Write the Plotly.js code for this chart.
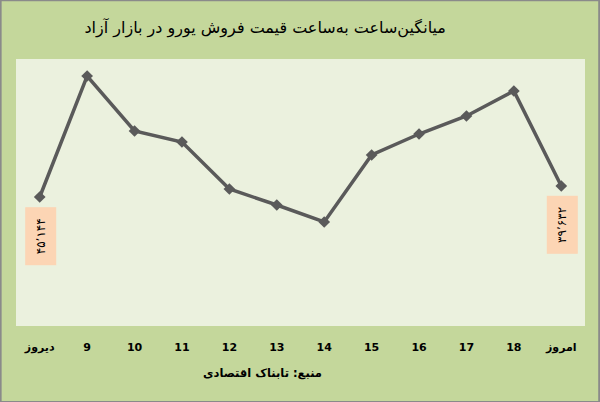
<!DOCTYPE html>
<html>
<head>
<meta charset="utf-8">
<script src="https://cdn.plot.ly/plotly-3.0.1.min.js"></script>
<style>
  html, body { margin: 0; padding: 0; background: #c4d79b; }
  #chart { width: 600px; height: 402px; }
</style>
</head>
<body>
<div id="chart"></div>
<script>
// hourly average euro sell price, free market (rial)
const hours = ['دیروز', '9', '10', '11', '12', '13', '14', '15', '16', '17', '18', 'امروز'];
const euroPrice = [45144, 51194, 48444, 47894, 45544, 44744, 43894, 47244, 48294, 49194, 50444, 45694];
// boxed labels on the first and last point, as printed on the chart
const endHours = ['دیروز', 'امروز'];
const endLabels = ['۴۵٬۱۴۴', '۳۹٬۶۳۲'];

const FA = 'DejaVu Sans, sans-serif';

const trace = {
  x: hours,
  y: euroPrice,
  type: 'scatter',
  mode: 'lines+markers',
  line: { color: '#5a5a5a', width: 3.5 },
  marker: { symbol: 'diamond', size: 9, color: '#5a5a5a' },
  hoverinfo: 'skip'
};

const annotations = endHours.map((h, k) => {
  const i = hours.indexOf(h);
  return {
    x: h, y: euroPrice[i], xref: 'x', yref: 'y',
    text: '\u2009' + endLabels[k] + '\u2009',
    showarrow: false, textangle: -90, yshift: -39, xshift: 1,
    bgcolor: '#fcd5b4', borderpad: 8,
    font: { family: FA, size: 12, color: '#000' }
  };
});

annotations.push({
  text: 'منبع: تابناک اقتصادی',
  xref: 'paper', yref: 'paper', x: 0.434, y: -0.175, yanchor: 'middle',
  showarrow: false, font: { family: FA, size: 11.5, color: '#000', weight: 'bold' }
});

const layout = {
  width: 600, height: 402,
  title: {
    text: 'میانگین‌ساعت به‌ساعت قیمت فروش یورو در بازار آزاد',
    font: { family: FA, size: 16, color: '#000' },
    xref: 'container', x: 0.442, xanchor: 'center', y: 0.933, yanchor: 'middle'
  },
  paper_bgcolor: '#c4d79b',
  plot_bgcolor: '#ebf1de',
  margin: { l: 16, r: 15, t: 59, b: 76 },
  showlegend: false,
  xaxis: {
    type: 'category', range: [-0.5, 11.5],
    showgrid: false, zeroline: false, showline: false,
    ticks: 'outside', ticklen: 11, tickcolor: 'rgba(0,0,0,0)',
    tickfont: { family: FA, size: 11, color: '#000', weight: 'bold' }
  },
  yaxis: {
    visible: false, range: [38694, 52044]
  },
  annotations: annotations,
  shapes: [{
    type: 'rect', xref: 'paper', yref: 'paper', x0: -0.027, x1: 1.025, y0: -0.285, y1: 1.22,
    line: { color: '#8a8a8a', width: 2 }, fillcolor: 'rgba(0,0,0,0)'
  }]
};

Plotly.newPlot('chart', [trace], layout, { displayModeBar: false, staticPlot: true });
</script>
</body>
</html>
